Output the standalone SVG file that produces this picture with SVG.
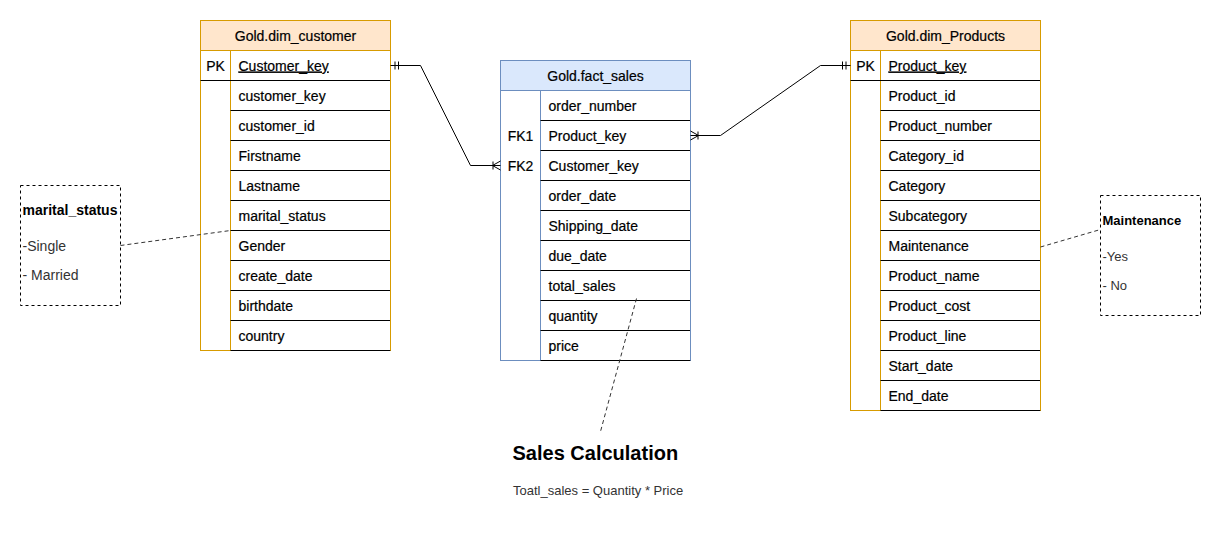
<svg xmlns="http://www.w3.org/2000/svg" width="1221" height="544" viewBox="0 0 1221 544">
<style>
text{font-family:"Liberation Sans",Arial,Helvetica,sans-serif;fill:#000}
.row{font-size:14px;stroke:#000;stroke-width:0.2}
.hdr{font-size:14px;text-anchor:middle;stroke:#000;stroke-width:0.2}
.key{font-size:14px;text-anchor:middle;stroke:#000;stroke-width:0.2}
.pk{text-decoration:underline}
.sep{stroke:#000;stroke-width:1}
.ob{stroke:#d79b00;stroke-width:1}
.bb{stroke:#6c8ebf;stroke-width:1}
.conn{fill:none;stroke:#000;stroke-width:1}
.dash{fill:none;stroke:#333;stroke-width:1;stroke-dasharray:4 3}
.note{fill:#fff;stroke:#000;stroke-width:1;stroke-dasharray:3 3}
.nb{font-weight:bold}
.ni{fill:#333}
</style>
<rect width="1221" height="544" fill="#fff"/>
<g transform="translate(0.5,0.5)">
<g id="dim_customer">
<rect x="200" y="20" width="190" height="330" fill="#fff" class="ob"/>
<rect x="200" y="20" width="190" height="30" fill="#ffe6cc" class="ob"/>
<text class="hdr" x="295" y="40">Gold.dim_customer</text>
<line class="ob" x1="230" y1="50" x2="230" y2="350"/>
<line class="sep" x1="200" y1="80" x2="390" y2="80"/>
<line class="sep" x1="230" y1="110" x2="390" y2="110"/>
<line class="sep" x1="230" y1="140" x2="390" y2="140"/>
<line class="sep" x1="230" y1="170" x2="390" y2="170"/>
<line class="sep" x1="230" y1="200" x2="390" y2="200"/>
<line class="sep" x1="230" y1="230" x2="390" y2="230"/>
<line class="sep" x1="230" y1="260" x2="390" y2="260"/>
<line class="sep" x1="230" y1="290" x2="390" y2="290"/>
<line class="sep" x1="230" y1="320" x2="390" y2="320"/>
<line class="sep" x1="230" y1="350" x2="390" y2="350"/>
<line class="ob" x1="390" y1="20" x2="390" y2="350"/>
<text class="key" x="215" y="70">PK</text>
<text class="row pk" x="238" y="70">Customer_key</text>
<text class="row" x="238" y="100">customer_key</text>
<text class="row" x="238" y="130">customer_id</text>
<text class="row" x="238" y="160">Firstname</text>
<text class="row" x="238" y="190">Lastname</text>
<text class="row" x="238" y="220">marital_status</text>
<text class="row" x="238" y="250">Gender</text>
<text class="row" x="238" y="280">create_date</text>
<text class="row" x="238" y="310">birthdate</text>
<text class="row" x="238" y="340">country</text>
</g>

<g id="fact_sales">
<rect x="500" y="60" width="190" height="300" fill="#fff" class="bb"/>
<rect x="500" y="60" width="190" height="30" fill="#dae8fc" class="bb"/>
<text class="hdr" x="595" y="80">Gold.fact_sales</text>
<line class="bb" x1="540" y1="90" x2="540" y2="360"/>
<line class="sep" x1="540" y1="120" x2="690" y2="120"/>
<line class="sep" x1="540" y1="150" x2="690" y2="150"/>
<line class="sep" x1="540" y1="180" x2="690" y2="180"/>
<line class="sep" x1="540" y1="210" x2="690" y2="210"/>
<line class="sep" x1="540" y1="240" x2="690" y2="240"/>
<line class="sep" x1="540" y1="270" x2="690" y2="270"/>
<line class="sep" x1="540" y1="300" x2="690" y2="300"/>
<line class="sep" x1="540" y1="330" x2="690" y2="330"/>
<line class="sep" x1="540" y1="360" x2="690" y2="360"/>
<line class="bb" x1="690" y1="60" x2="690" y2="360"/>
<text class="key" x="520" y="140">FK1</text>
<text class="key" x="520" y="170">FK2</text>
<text class="row" x="548" y="110">order_number</text>
<text class="row" x="548" y="140">Product_key</text>
<text class="row" x="548" y="170">Customer_key</text>
<text class="row" x="548" y="200">order_date</text>
<text class="row" x="548" y="230">Shipping_date</text>
<text class="row" x="548" y="260">due_date</text>
<text class="row" x="548" y="290">total_sales</text>
<text class="row" x="548" y="320">quantity</text>
<text class="row" x="548" y="350">price</text>
</g>

<g id="dim_products">
<rect x="850" y="20" width="190" height="390" fill="#fff" class="ob"/>
<rect x="850" y="20" width="190" height="30" fill="#ffe6cc" class="ob"/>
<text class="hdr" x="945" y="40">Gold.dim_Products</text>
<line class="ob" x1="880" y1="50" x2="880" y2="410"/>
<line class="sep" x1="850" y1="80" x2="1040" y2="80"/>
<line class="sep" x1="880" y1="110" x2="1040" y2="110"/>
<line class="sep" x1="880" y1="140" x2="1040" y2="140"/>
<line class="sep" x1="880" y1="170" x2="1040" y2="170"/>
<line class="sep" x1="880" y1="200" x2="1040" y2="200"/>
<line class="sep" x1="880" y1="230" x2="1040" y2="230"/>
<line class="sep" x1="880" y1="260" x2="1040" y2="260"/>
<line class="sep" x1="880" y1="290" x2="1040" y2="290"/>
<line class="sep" x1="880" y1="320" x2="1040" y2="320"/>
<line class="sep" x1="880" y1="350" x2="1040" y2="350"/>
<line class="sep" x1="880" y1="380" x2="1040" y2="380"/>
<line class="sep" x1="880" y1="410" x2="1040" y2="410"/>
<line class="ob" x1="1040" y1="20" x2="1040" y2="410"/>
<text class="key" x="865" y="70">PK</text>
<text class="row pk" x="888" y="70">Product_key</text>
<text class="row" x="888" y="100">Product_id</text>
<text class="row" x="888" y="130">Product_number</text>
<text class="row" x="888" y="160">Category_id</text>
<text class="row" x="888" y="190">Category</text>
<text class="row" x="888" y="220">Subcategory</text>
<text class="row" x="888" y="250">Maintenance</text>
<text class="row" x="888" y="280">Product_name</text>
<text class="row" x="888" y="310">Product_cost</text>
<text class="row" x="888" y="340">Product_line</text>
<text class="row" x="888" y="370">Start_date</text>
<text class="row" x="888" y="400">End_date</text>
</g>

<g id="note_marital">
<rect class="note" x="20" y="185" width="100" height="120"/>
<text class="nb" x="22" y="214" font-size="14">marital_status</text>
<text class="ni" x="22" y="250" font-size="14">-Single</text>
<text class="ni" x="22" y="279" font-size="14">- Married</text>
</g>

<g id="note_maintenance">
<rect class="note" x="1100" y="195" width="100" height="120"/>
<text class="nb" x="1102" y="224" font-size="13">Maintenance</text>
<text class="ni" x="1102" y="260" font-size="13">-Yes</text>
<text class="ni" x="1102" y="289" font-size="13">- No</text>
</g>

<g id="sales_calc">
<text x="512" y="459" font-size="20" font-weight="bold" fill="#000">Sales Calculation</text>
<text class="ni" x="512.5" y="494" font-size="13">Toatl_sales = Quantity * Price</text>
</g>

<g id="connectors">
<polyline class="conn" points="390,65 420,65 470,165 500,165"/>
<line class="conn" x1="394.5" y1="61" x2="394.5" y2="69"/>
<line class="conn" x1="398" y1="61" x2="398" y2="69"/>
<polyline class="conn" points="500,160.5 492,165 500,169.5"/>
<line class="conn" x1="492.5" y1="161" x2="492.5" y2="169"/>

<polyline class="conn" points="690,135 720,135 820,65 850,65"/>
<polyline class="conn" points="690,130.5 698,135 690,139.5"/>
<line class="conn" x1="697.5" y1="131" x2="697.5" y2="139"/>
<line class="conn" x1="842" y1="61" x2="842" y2="69"/>
<line class="conn" x1="845.5" y1="61" x2="845.5" y2="69"/>

<line class="dash" x1="120" y1="245" x2="230" y2="230"/>
<line class="dash" x1="1040" y1="246.5" x2="1100" y2="229"/>
<line class="dash" x1="636" y1="298" x2="600" y2="431"/>
</g>
</g>
</svg>
